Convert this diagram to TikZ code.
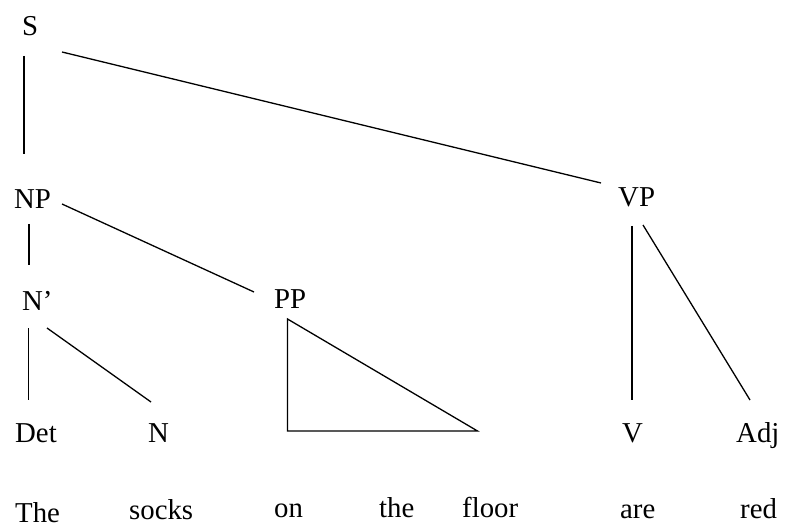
\documentclass[tikz,border=0pt]{standalone}
\usepackage{fontspec}
\setmainfont{Liberation Serif}
\begin{document}
\begin{tikzpicture}[
    x=1pt, y=-1pt,
    lbl/.style={
        anchor=base west,
        inner sep=0pt,
        font=\fontsize{28.8}{34}\selectfont
    },
    word/.style={
        lbl
    },
    edge/.style={
        line width=1.3pt,
        black
    }
]
\useasboundingbox (0,0) rectangle (786,526);

%--- Категориуд ---
\node[lbl] (S)    at (22, 36)  {S};
\node[lbl] (NP)   at (14, 209) {NP};
\node[lbl] (VP)   at (618,207) {VP};
\node[lbl] (Nbar) at (22, 310) {N’};
\node[lbl] (PP)   at (274,308) {PP};
\node[lbl] (Det)  at (15, 442) {Det};
\node[lbl] (N)    at (148,442) {N};
\node[lbl] (V)    at (622,442) {V};
\node[lbl] (Adj)  at (736,442) {Adj};

%--- Үгс ---
\node[word] (wThe)   at (15, 522) {The};
\node[word] (wSocks) at (129,519) {socks};
\node[word] (wOn)    at (274,517) {on};
\node[word] (wDet)   at (379,517) {the};
\node[word] (wFloor) at (462,517) {floor};
\node[word] (wAre)   at (620,518) {are};
\node[word] (wRed)   at (740,518) {red};

%--- S ---
\draw[edge] ([shift={(2,20)}]S.base west)  -- ([shift={(10,-55)}]NP.base west);
\draw[edge] ([shift={(40,16)}]S.base west) -- ([shift={(-17,-24)}]VP.base west);

%--- NP ---
\draw[edge] ([shift={(15,15)}]NP.base west) -- ([shift={(7,-45)}]Nbar.base west);
\draw[edge] ([shift={(48,-5)}]NP.base west) -- ([shift={(-20,-16)}]PP.base west);

%--- N' ---
\draw[edge] ([shift={(6.5,18)}]Nbar.base west) -- ([shift={(13.5,-42)}]Det.base west);
\draw[edge] ([shift={(25,18)}]Nbar.base west)  -- ([shift={(3,-40)}]N.base west);

%--- VP ---
\draw[edge] ([shift={(14,19)}]VP.base west) -- ([shift={(10,-42)}]V.base west);
\draw[edge] ([shift={(25,18)}]VP.base west) -- ([shift={(14,-42)}]Adj.base west);

%--- PP гурвалжин ---
\draw[edge] ([shift={(13.5,11)}]PP.base west)
    -- ([shift={(13.5,123)}]PP.base west)
    -- ([shift={(203.5,123)}]PP.base west)
    -- cycle;

\end{tikzpicture}
\end{document}
